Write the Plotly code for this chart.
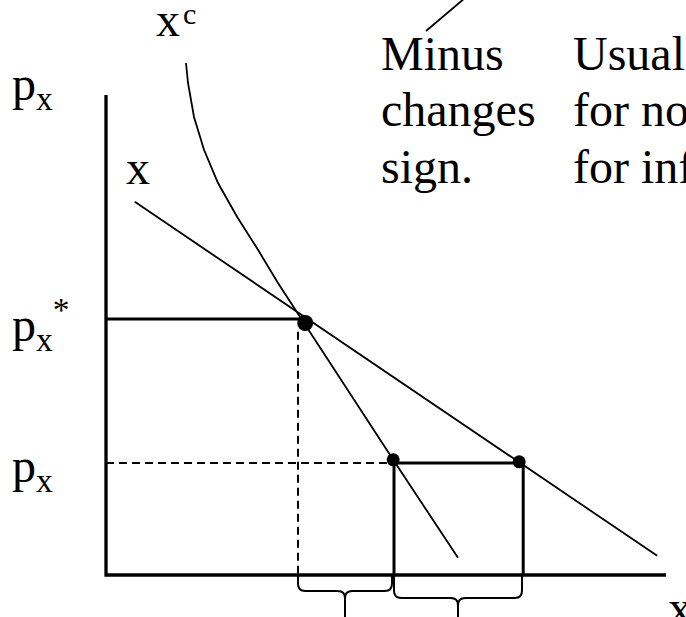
import plotly.graph_objects as go

# ---------------- data (diagram units: quantity x on the horizontal, price p_x on the vertical) ----
axis_q = [0.0, 0.0, 14.0]
axis_p = [12.0, 0.0, 0.0]

demand_q = [0.72, 13.78]           # ordinary demand  x
demand_p = [9.33, 0.48]

comp_q = [2.0, 2.05, 2.2, 2.45, 2.8, 3.28, 3.8, 4.3, 4.8, 7.18, 8.8]      # compensated demand x^c
comp_p = [12.8, 12.3, 11.45, 10.63, 9.8, 8.95, 8.13, 7.3, 6.53, 2.88, 0.43]

p_star = 6.4          # initial price p_x*
p_new = 2.8           # new price p_x
q_star = 4.8          # initial quantity
q_comp = 7.2          # compensated quantity at new price
q_new = 10.43         # ordinary quantity at new price
p_star_line_end = 4.95
dash_v_top = 6.08

dots_q = [4.98, 7.18, 10.33]
dots_p = [6.3, 2.88, 2.83]

brace_q0 = [4.8, 7.2]
brace_q1 = [7.15, 10.4]
brace_depth = [0.4, 0.575]

leader_q = [8.0, 9.3]
leader_p = [13.6, 14.7]

FONT = "Liberation Serif, Times New Roman, serif"
BLACK = "#000000"

fig = go.Figure()

def line(q, p, width, dash="solid"):
    fig.add_trace(go.Scatter(x=q, y=p, mode="lines",
                             line=dict(color=BLACK, width=width, dash=dash),
                             hoverinfo="skip", showlegend=False))

line(axis_q, axis_p, 3.3)
line(demand_q, demand_p, 1.8)
line(comp_q, comp_p, 1.8)
line([0, p_star_line_end], [p_star, p_star], 3.0)
line([0, q_comp - 0.05], [p_new, p_new], 2.0, "8px,5px")
line([q_star, q_star], [dash_v_top, 0], 2.0, "8px,5px")
line([q_comp, q_comp, q_new, q_new], [0, p_new, p_new, 0], 3.0)
line(leader_q, leader_p, 1.8)

fig.add_trace(go.Scatter(x=dots_q, y=dots_p, mode="markers",
                         marker=dict(color=BLACK, size=[16, 13, 13], opacity=1,
                                     line=dict(width=0)),
                         hoverinfo="skip", showlegend=False))

def brace_path(q0, q1, top, depth, r=0.18, bottom=-1.5):
    h = top - depth
    mid = (q0 + q1) / 2
    return (f"M{q0},{top} L{q0},{h + r} Q{q0},{h} {q0 + r},{h} L{mid - r},{h} "
            f"Q{mid},{h} {mid},{h - r} L{mid},{bottom} "
            f"M{q1},{top} L{q1},{h + r} Q{q1},{h} {q1 - r},{h} L{mid + r},{h} "
            f"Q{mid},{h} {mid},{h - r}")

for q0, q1, d in zip(brace_q0, brace_q1, brace_depth):
    fig.add_shape(type="path", xref="x", yref="y", path=brace_path(q0, q1, 0.0, d),
                  line=dict(color=BLACK, width=2))

def label(text, q, p, size=48):
    fig.add_annotation(x=q, y=p, xref="x", yref="y", text=text, showarrow=False,
                       xanchor="left", yanchor="middle",
                       font=dict(family=FONT, size=size, color=BLACK))

label("x", 1.2, 13.88)
label("c", 1.88, 14.03, size=30)
label("p<sub>x</sub>", -2.4, 12.2)
label("x", 0.45, 10.2)
label("p<sub>x</sub><sup>*</sup>", -2.4, 6.275)
label("p<sub>x</sub>", -2.4, 2.65)
label("Minus", 6.825, 13.05)
label("changes", 6.825, 11.65)
label("sign.", 6.825, 10.225)
label("Usual", 11.625, 13.05)
label("for no", 11.625, 11.65)
label("for inf", 11.625, 10.225)
label("x", 14.0, -0.8)

fig.update_layout(
    width=686, height=617,
    margin=dict(l=0, r=0, t=0, b=0),
    paper_bgcolor="white", plot_bgcolor="white",
    xaxis=dict(range=[-2.65, 14.5], visible=False, fixedrange=True),
    yaxis=dict(range=[-1.05, 14.375], visible=False, fixedrange=True),
    showlegend=False,
)

fig.write_html("out.html", config={"displayModeBar": False},
               post_script="document.body.style.margin='0';")
